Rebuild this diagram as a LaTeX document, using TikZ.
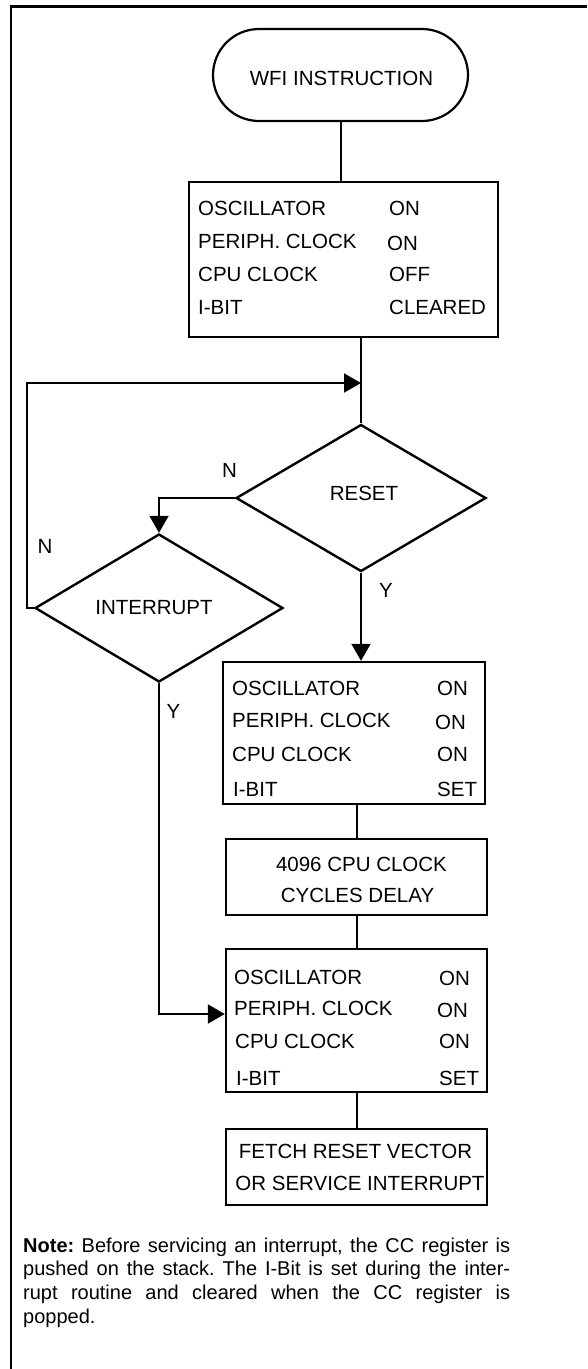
\documentclass[tikz,border=0pt]{standalone}
\usepackage{fontspec}
\setmainfont{Liberation Sans}
\usetikzlibrary{shapes.geometric,arrows.meta,calc}
\newcommand\fsmain{\fontsize{20.5}{24}\selectfont}
\newcommand\fsnote{\fontsize{20}{24}\selectfont\frenchspacing}
\begin{document}
\begin{tikzpicture}[x=1pt,y=-1pt,
  every node/.style={font=\fsmain, text=black},
  box/.style={draw, line width=2.4pt, inner sep=0pt},
  dec/.style={diamond, draw, line width=2.4pt, inner sep=0pt},
  term/.style={draw, line width=2.2pt, rounded corners=46pt, inner sep=0pt},
  lt/.style={inner sep=0pt, anchor=base west},
  ct/.style={inner sep=0pt, anchor=base},
  conn/.style={line width=2pt},
  arr/.style={conn, -{Triangle[length=17pt,width=19pt]}},
  notetxt/.style={inner sep=0pt, anchor=base west, font=\fsnote}
]
\useasboundingbox (0,0) rectangle (587,1369);
% frame
\draw[line width=2.4pt] (11,1369) -- (11,6.5) -- (587,6.5);

% terminal
\node[term, minimum width=255pt, minimum height=92pt] (wfi) at (340.5,75) {};
\node[ct] (wfit) at (341.5,85) {WFI INSTRUCTION};

% box 1
\node[box, minimum width=309pt, minimum height=155pt] (b1) at (343.5,259.5) {};
\node[lt] (b1a) at (198,215) {OSCILLATOR};
\node[lt] (b1b) at (198,248) {PERIPH. CLOCK};
\node[lt] (b1c) at (198,281) {CPU CLOCK};
\node[lt] (b1d) at (198,314) {I-BIT};
\node[lt] (b1e) at (389,215) {ON};
\node[lt] (b1f) at (387,250) {ON};
\node[lt] (b1g) at (389,281) {OFF};
\node[lt] (b1h) at (389,314) {CLEARED};

% decisions
\node[dec, minimum width=250pt, minimum height=147pt] (reset) at (361,498) {};
\node[ct] (resett) at (364,500) {RESET};
\node[dec, minimum width=248pt, minimum height=148pt] (intr) at (159,608) {};
\node[ct] (intrt) at (154,614) {INTERRUPT};

% box 2
\node[box, minimum width=262pt, minimum height=142pt] (b2) at (354,733) {};
\node[lt] (b2a) at (232,695) {OSCILLATOR};
\node[lt] (b2b) at (232,727) {PERIPH. CLOCK};
\node[lt] (b2c) at (232,761) {CPU CLOCK};
\node[lt] (b2d) at (233,796) {I-BIT};
\node[lt] (b2e) at (437,695) {ON};
\node[lt] (b2f) at (435,729) {ON};
\node[lt] (b2g) at (437,761) {ON};
\node[lt] (b2h) at (437,796) {SET};

% box 3
\node[box, minimum width=261pt, minimum height=76pt] (b3) at (356.5,877) {};
\node[ct] (b3a) at (361.5,871) {4096 CPU CLOCK};
\node[ct] (b3b) at (357.5,902) {CYCLES DELAY};

% box 4
\node[box, minimum width=261pt, minimum height=143pt] (b4) at (356.5,1020.5) {};
\node[lt] (b4a) at (234,984) {OSCILLATOR};
\node[lt] (b4b) at (234,1015) {PERIPH. CLOCK};
\node[lt] (b4c) at (235,1048) {CPU CLOCK};
\node[lt] (b4d) at (236,1085) {I-BIT};
\node[lt] (b4e) at (439,985) {ON};
\node[lt] (b4f) at (437,1017) {ON};
\node[lt] (b4g) at (439,1048) {ON};
\node[lt] (b4h) at (439,1085) {SET};

% box 5
\node[box, minimum width=261pt, minimum height=76pt] (b5) at (356.5,1167) {};
\node[ct] (b5a) at (355.5,1158) {FETCH RESET VECTOR};
\node[ct] (b5b) at (360,1190) {OR SERVICE INTERRUPT};

% labels
\node[ct] (lN1) at (229.5,477) {N};
\node[ct] (lN2) at (45,553) {N};
\node[ct] (lY1) at (386,597) {Y};
\node[ct] (lY2) at (173.5,718) {Y};

% connectors
\coordinate (loopin) at (361,383);
\coordinate (loopL) at (27,383);
\draw[conn] (wfi.south) -- (wfi.south |- b1.north);
\draw[conn] (b1.south -| reset.north) -- (reset.north);
\draw[arr] (intr.west) -| (loopL) -- (loopin);
\draw[arr] (reset.west) -| (intr.north);
\draw[arr] (reset.south) -- (reset.south |- b2.north);
\draw[arr] (intr.south) |- ($(b4.west)+(0,-6.5)$);
\draw[conn] (b3.north |- b2.south) -- (b3.north);
\draw[conn] (b3.south) -- (b4.north);
\draw[conn] (b4.south) -- (b5.north);

% note
\node[notetxt] (n1) at (23,1252) {\makebox[487pt][s]{\textbf{Note:} Before servicing an interrupt, the CC register is}};
\node[notetxt] (n2) at (23,1275.7) {\makebox[487pt][s]{pushed on the stack. The I-Bit is set during the inter-}};
\node[notetxt] (n3) at (23,1299.4) {\makebox[487pt][s]{rupt routine and cleared when the CC register is}};
\node[notetxt] (n4) at (23,1323) {popped.};
\end{tikzpicture}
\end{document}
